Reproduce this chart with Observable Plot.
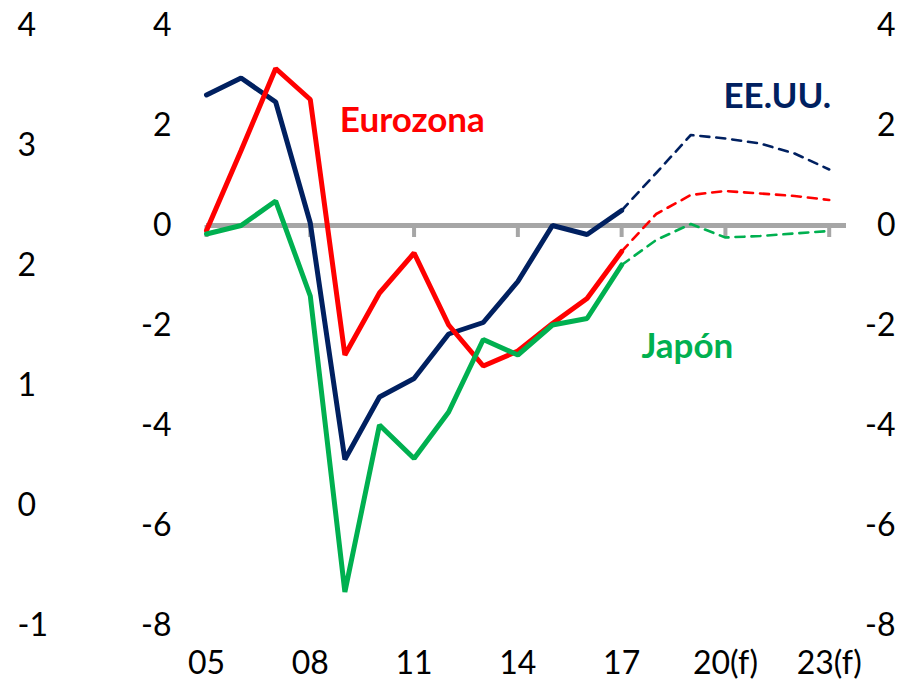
<!DOCTYPE html>
<html>
<head>
<meta charset="utf-8">
<script src="https://cdn.jsdelivr.net/npm/d3@7"></script>
<script src="https://cdn.jsdelivr.net/npm/@observablehq/plot@0.6"></script>
<style>
  html, body { margin: 0; padding: 0; background: #fff; }
  #chart svg { display: block; }
</style>
</head>
<body>
<div id="chart"></div>
<script>
// ---- data ----
const years = [2005, 2006, 2007, 2008, 2009, 2010, 2011, 2012, 2013, 2014, 2015, 2016, 2017, 2018, 2019, 2020, 2021, 2022, 2023];
const lastActual = 2017;
const usa   = [2.61, 2.95, 2.47, 0.05, -4.68, -3.43, -3.06, -2.17, -1.94, -1.12, 0.00, -0.18, 0.30, 1.05, 1.81, 1.74, 1.64, 1.44, 1.12];
const euro  = [-0.10, 1.50, 3.14, 2.52, -2.59, -1.35, -0.55, -1.99, -2.81, -2.51, -1.96, -1.46, -0.52, 0.23, 0.61, 0.69, 0.64, 0.59, 0.51];
const japan = [-0.17, 0.00, 0.49, -1.41, -7.33, -3.99, -4.66, -3.73, -2.28, -2.59, -1.99, -1.86, -0.79, -0.29, 0.03, -0.24, -0.21, -0.16, -0.11];

const seriesNames  = ["EE.UU.", "Eurozona", "Japón"];
const seriesColors = ["#002060", "#FF0000", "#00B050"];

const xTickValues = [2005, 2008, 2011, 2014, 2017, 2020, 2023];
const xTickLabels = ["05", "08", "11", "14", "17", "20(f)", "23(f)"];
const yTicks = [-8, -6, -4, -2, 0, 2, 4];
// extra outer-left axis (its own scale -1..4 spans the same height as -8..4)
const outerTicks = [-1, 0, 1, 2, 3, 4];
const outerDomain = [-1, 4];
const mainDomain = [-8, 4];

// series label annotations
const labelNames = ["Eurozona", "EE.UU.", "Japón"];
const labelX = [2010.95, 2021.5, 2018.9];
const labelY = [2.1, 2.58, -2.42];

// ---- build tables ----
const allSeries = [usa, euro, japan];
const rows = [];
allSeries.forEach((vals, i) => {
  years.forEach((yr, j) => rows.push({series: seriesNames[i], year: yr, value: vals[j]}));
});
const actual = rows.filter(d => d.year <= lastActual);
const forecast = rows.filter(d => d.year >= lastActual);
const labels = labelNames.map((n, i) => ({series: n, x: labelX[i], y: labelY[i]}));

const mapOuter = s => mainDomain[0] + (s - outerDomain[0]) * (mainDomain[1] - mainDomain[0]) / (outerDomain[1] - outerDomain[0]);
const outerMapped = outerTicks.map(mapOuter);

const font = "Lato, 'Open Sans', sans-serif";
const fs = 32;

const chart = Plot.plot({
  width: 924,
  height: 690,
  marginLeft: 206,
  marginRight: 78,
  marginTop: 25,
  marginBottom: 65,
  style: {fontFamily: font, fontSize: fs + "px", color: "#000", background: "#fff"},
  x: {domain: [2005, 2023.5], axis: null},
  y: {domain: mainDomain, axis: null},
  color: {domain: seriesNames, range: seriesColors},
  marks: [
    // zero axis line and its ticks
    Plot.ruleY([0], {x1: 2005, x2: 2023.5, stroke: "#A6A6A6", strokeWidth: 5}),
    Plot.ruleX(xTickValues, {x: d => d, y1: 0, y2: -0.24, stroke: "#A6A6A6", strokeWidth: 4}),
    // x labels
    Plot.axisX({ticks: xTickValues, tickFormat: d => xTickLabels[xTickValues.indexOf(d)], tickSize: 0, tickPadding: 26, fontSize: fs, label: null}),
    // left axis
    Plot.axisY({anchor: "left", ticks: yTicks, tickSize: 0, tickPadding: 35, tickFormat: d => String(d), fontSize: fs, label: null}),
    // right axis
    Plot.axisY({anchor: "right", ticks: yTicks, tickSize: 0, tickPadding: 49, textAnchor: "end", tickFormat: d => String(d), fontSize: fs, label: null}),
    // outer-left axis
    Plot.axisY({anchor: "left", ticks: outerMapped, tickSize: 0, tickPadding: 189, textAnchor: "start",
      tickFormat: d => String(outerTicks[outerMapped.indexOf(d)]), fontSize: fs, label: null}),
    // forecast dashed lines
    Plot.line(forecast, {x: "year", y: "value", z: "series", stroke: "series", strokeWidth: 2.6, strokeDasharray: "9,7"}),
    // actual solid lines
    Plot.line(actual, {x: "year", y: "value", z: "series", stroke: "series", strokeWidth: 5, strokeLinejoin: "miter"}),
    // series labels
    Plot.text(labels, {x: "x", y: "y", text: "series", fill: "series", fontWeight: "bold", fontSize: 35, textAnchor: "middle"})
  ]
});
document.getElementById("chart").appendChild(chart);
</script>
</body>
</html>
